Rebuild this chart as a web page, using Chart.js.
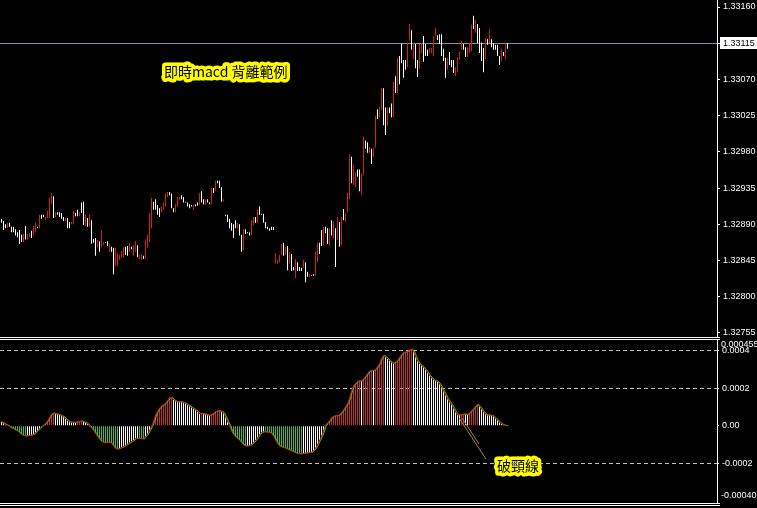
<!DOCTYPE html>
<html>
<head>
<meta charset="utf-8">
<script src="https://cdn.jsdelivr.net/npm/chart.js@4.4.1/dist/chart.umd.min.js"></script>
<style>
  html, body { margin: 0; padding: 0; background: #000; }
  #wrap { position: relative; width: 757px; height: 508px; background: #000; overflow: hidden; }
  canvas { position: absolute; left: 0; }
  #priceCanvas { top: 0; }
  #macdCanvas { top: 338px; }
</style>
</head>
<body>
<div id="wrap">
  <canvas id="priceCanvas" width="757" height="338"></canvas>
  <canvas id="macdCanvas" width="757" height="170"></canvas>
</div>
<script>
// 顏色: 紅=上漲K線, 白=下跌K線; MACD 柱狀 紅/白/綠
const COLORS = {
    up: '#dc1c1c',
    down: '#ffffff',
    axis: '#ffffff',
    priceLine: '#7f8ea4',
    level: '#c0c0c0',
    histUp: '#cc2844',
    histDown: '#40c040',
    histFlat: '#ffffff',
    macdLine: '#ff0000',
    signalLine: '#00ff00',
    note: '#ffff00',
    arrow: '#a8843c',
};

// 每根K線的最高/最低價 (由左到右)
const highs = [
    1.32897, 1.32894, 1.32890, 1.32892, 1.32892, 1.32887, 1.32887, 1.32884, 1.32880, 1.32883,
    1.32877, 1.32878, 1.32888, 1.32878, 1.32879, 1.32882, 1.32888, 1.32892, 1.32887, 1.32902,
    1.32902, 1.32902, 1.32899, 1.32907, 1.32923, 1.32929, 1.32925, 1.32905, 1.32905, 1.32905,
    1.32904, 1.32899, 1.32898, 1.32898, 1.32893, 1.32893, 1.32907, 1.32904, 1.32908, 1.32905,
    1.32917, 1.32918, 1.32902, 1.32898, 1.32902, 1.32895, 1.32872, 1.32873, 1.32871, 1.32869,
    1.32883, 1.32868, 1.32868, 1.32869, 1.32866, 1.32862, 1.32861, 1.32861, 1.32854, 1.32852,
    1.32857, 1.32862, 1.32862, 1.32863, 1.32867, 1.32862, 1.32864, 1.32869, 1.32864, 1.32852,
    1.32853, 1.32851, 1.32871, 1.32877, 1.32904, 1.32923, 1.32918, 1.32921, 1.32914, 1.32910,
    1.32912, 1.32917, 1.32928, 1.32930, 1.32930, 1.32928, 1.32910, 1.32915, 1.32924, 1.32924,
    1.32926, 1.32924, 1.32918, 1.32917, 1.32915, 1.32914, 1.32914, 1.32915, 1.32917, 1.32929,
    1.32931, 1.32921, 1.32921, 1.32921, 1.32917, 1.32935, 1.32935, 1.32944, 1.32944, 1.32944,
    1.32936, 1.32921, 1.32902, 1.32902, 1.32897, 1.32892, 1.32890, 1.32895, 1.32892, 1.32890,
    1.32877, 1.32884, 1.32884, 1.32880, 1.32880, 1.32895, 1.32899, 1.32899, 1.32908, 1.32912,
    1.32903, 1.32903, 1.32893, 1.32887, 1.32885, 1.32887, 1.32887, 1.32854, 1.32846, 1.32852,
    1.32866, 1.32867, 1.32862, 1.32863, 1.32856, 1.32853, 1.32837, 1.32847, 1.32843, 1.32837,
    1.32836, 1.32846, 1.32843, 1.32831, 1.32828, 1.32827, 1.32828, 1.32856, 1.32867, 1.32867,
    1.32883, 1.32887, 1.32887, 1.32885, 1.32885, 1.32895, 1.32894, 1.32885, 1.32899, 1.32893,
    1.32899, 1.32909, 1.32904, 1.32929, 1.32977, 1.32974, 1.32964, 1.32955, 1.32958, 1.32958,
    1.32953, 1.32999, 1.32994, 1.32992, 1.32986, 1.32984, 1.32985, 1.33025, 1.33033, 1.33036,
    1.33059, 1.33059, 1.33035, 1.33035, 1.33035, 1.33040, 1.33067, 1.33074, 1.33097, 1.33099,
    1.33115, 1.33094, 1.33094, 1.33116, 1.33139, 1.33131, 1.33115, 1.33114, 1.33094, 1.33114,
    1.33115, 1.33124, 1.33114, 1.33107, 1.33109, 1.33109, 1.33124, 1.33134, 1.33125, 1.33126,
    1.33126, 1.33108, 1.33097, 1.33097, 1.33104, 1.33094, 1.33094, 1.33085, 1.33098, 1.33105,
    1.33118, 1.33114, 1.33110, 1.33110, 1.33115, 1.33138, 1.33149, 1.33144, 1.33139, 1.33134,
    1.33116, 1.33109, 1.33121, 1.33120, 1.33133, 1.33120, 1.33115, 1.33113, 1.33113, 1.33099,
    1.33108, 1.33104, 1.33115, 1.33115,
];
const lows = [
    1.32892, 1.32883, 1.32885, 1.32885, 1.32887, 1.32880, 1.32880, 1.32876, 1.32874, 1.32866,
    1.32868, 1.32868, 1.32871, 1.32871, 1.32874, 1.32873, 1.32876, 1.32880, 1.32885, 1.32885,
    1.32897, 1.32899, 1.32895, 1.32898, 1.32898, 1.32915, 1.32898, 1.32899, 1.32902, 1.32899,
    1.32897, 1.32894, 1.32894, 1.32885, 1.32885, 1.32890, 1.32890, 1.32900, 1.32900, 1.32900,
    1.32904, 1.32889, 1.32888, 1.32887, 1.32887, 1.32866, 1.32867, 1.32851, 1.32861, 1.32856,
    1.32861, 1.32864, 1.32867, 1.32863, 1.32856, 1.32856, 1.32828, 1.32838, 1.32838, 1.32846,
    1.32848, 1.32849, 1.32852, 1.32851, 1.32856, 1.32859, 1.32851, 1.32856, 1.32849, 1.32847,
    1.32846, 1.32847, 1.32847, 1.32861, 1.32868, 1.32885, 1.32908, 1.32908, 1.32902, 1.32899,
    1.32905, 1.32908, 1.32912, 1.32924, 1.32926, 1.32910, 1.32905, 1.32905, 1.32912, 1.32920,
    1.32921, 1.32917, 1.32917, 1.32912, 1.32910, 1.32912, 1.32908, 1.32912, 1.32913, 1.32914,
    1.32917, 1.32915, 1.32914, 1.32917, 1.32915, 1.32915, 1.32929, 1.32931, 1.32941, 1.32935,
    1.32918, 1.32918, 1.32900, 1.32893, 1.32885, 1.32882, 1.32873, 1.32885, 1.32885, 1.32876,
    1.32856, 1.32858, 1.32878, 1.32879, 1.32876, 1.32876, 1.32889, 1.32892, 1.32892, 1.32902,
    1.32902, 1.32892, 1.32885, 1.32884, 1.32882, 1.32883, 1.32883, 1.32841, 1.32841, 1.32843,
    1.32852, 1.32851, 1.32852, 1.32833, 1.32841, 1.32832, 1.32833, 1.32823, 1.32832, 1.32832,
    1.32832, 1.32836, 1.32818, 1.32825, 1.32825, 1.32826, 1.32826, 1.32826, 1.32843, 1.32853,
    1.32863, 1.32864, 1.32879, 1.32866, 1.32863, 1.32876, 1.32873, 1.32837, 1.32871, 1.32862,
    1.32864, 1.32895, 1.32893, 1.32905, 1.32921, 1.32941, 1.32939, 1.32936, 1.32949, 1.32931,
    1.32926, 1.32951, 1.32984, 1.32979, 1.32979, 1.32965, 1.32974, 1.32985, 1.33021, 1.33023,
    1.33032, 1.33013, 1.33001, 1.33012, 1.33028, 1.33023, 1.33023, 1.33053, 1.33053, 1.33064,
    1.33090, 1.33072, 1.33082, 1.33085, 1.33118, 1.33107, 1.33095, 1.33084, 1.33073, 1.33083,
    1.33103, 1.33092, 1.33099, 1.33099, 1.33103, 1.33103, 1.33099, 1.33123, 1.33119, 1.33114,
    1.33099, 1.33093, 1.33072, 1.33082, 1.33088, 1.33085, 1.33078, 1.33074, 1.33079, 1.33094,
    1.33107, 1.33107, 1.33098, 1.33098, 1.33103, 1.33105, 1.33133, 1.33128, 1.33115, 1.33103,
    1.33093, 1.33079, 1.33095, 1.33113, 1.33115, 1.33110, 1.33107, 1.33107, 1.33099, 1.33088,
    1.33093, 1.33099, 1.33095, 1.33108,
];
// u = 收漲 (紅), d = 收跌 (白)
const barDirs =
    'dddudddddd' + 'duduuduudu' + 'dduuuududd' + 'ddudduuddu' + 'ddududddud' +
    'uuddudduuu' + 'uudduduudu' + 'uduuuudddd' + 'uuuuddduuu' + 'dddddduddu' +
    'dduddududd' + 'duddddddud' + 'duddduudud' + 'ddddddduuu' + 'udududdudd' +
    'duddudduud' + 'duddududud' + 'uduuuduudd' + 'uudduduudu' + 'udduddudud' +
    'ddduududdu' + 'uddduuuudd' + 'ddduddduuu' + 'udduuududd' + 'ddududdddd' +
    'udud';

const priceTicks = [1.32755, 1.32800, 1.32845, 1.32890, 1.32935, 1.32980, 1.33025, 1.33070, 1.33115, 1.33160];
const lastPrice = 1.33115;

// MACD 柱狀值
const macd = [
    21e-6, 14e-6, 7e-6, 2e-6, -4e-6, -11e-6, -16e-6, -23e-6, -28e-6, -36e-6,
    -46e-6, -52e-6, -54e-6, -53e-6, -52e-6, -50e-6, -46e-6, -37e-6, -27e-6, -16e-6,
    -5e-6, 4e-6, 12e-6, 25e-6, 44e-6, 62e-6, 68e-6, 64e-6, 62e-6, 59e-6,
    53e-6, 48e-6, 39e-6, 28e-6, 21e-6, 18e-6, 18e-6, 18e-6, 20e-6, 23e-6,
    25e-6, 21e-6, 18e-6, 11e-6, -2e-6, -11e-6, -25e-6, -41e-6, -57e-6, -71e-6,
    -84e-6, -87e-6, -89e-6, -89e-6, -89e-6, -92e-6, -107e-6, -121e-6, -124e-6, -121e-6,
    -116e-6, -112e-6, -105e-6, -98e-6, -91e-6, -85e-6, -78e-6, -68e-6, -67e-6, -68e-6,
    -69e-6, -70e-6, -58e-6, -44e-6, -25e-6, -4e-6, 21e-6, 57e-6, 76e-6, 94e-6,
    105e-6, 112e-6, 119e-6, 135e-6, 149e-6, 151e-6, 139e-6, 132e-6, 128e-6, 128e-6,
    128e-6, 124e-6, 119e-6, 112e-6, 105e-6, 98e-6, 91e-6, 84e-6, 75e-6, 64e-6,
    66e-6, 64e-6, 62e-6, 57e-6, 55e-6, 59e-6, 66e-6, 75e-6, 78e-6, 80e-6,
    76e-6, 69e-6, 48e-6, 23e-6, 0, -27e-6, -46e-6, -59e-6, -68e-6, -76e-6,
    -89e-6, -101e-6, -108e-6, -107e-6, -105e-6, -100e-6, -91e-6, -78e-6, -64e-6, -46e-6,
    -37e-6, -32e-6, -32e-6, -34e-6, -36e-6, -39e-6, -55e-6, -76e-6, -96e-6, -108e-6,
    -112e-6, -116e-6, -119e-6, -124e-6, -130e-6, -133e-6, -139e-6, -144e-6, -148e-6, -149e-6,
    -149e-6, -148e-6, -146e-6, -144e-6, -143e-6, -141e-6, -133e-6, -121e-6, -100e-6, -78e-6,
    -57e-6, -28e-6, 4e-6, 14e-6, 27e-6, 43e-6, 50e-6, 53e-6, 54e-6, 57e-6,
    71e-6, 85e-6, 101e-6, 119e-6, 146e-6, 185e-6, 212e-6, 226e-6, 235e-6, 240e-6,
    238e-6, 251e-6, 261e-6, 277e-6, 290e-6, 295e-6, 294e-6, 300e-6, 315e-6, 331e-6,
    359e-6, 375e-6, 368e-6, 357e-6, 347e-6, 338e-6, 332e-6, 340e-6, 347e-6, 364e-6,
    379e-6, 389e-6, 393e-6, 395e-6, 404e-6, 409e-6, 398e-6, 368e-6, 345e-6, 332e-6,
    322e-6, 313e-6, 300e-6, 284e-6, 268e-6, 256e-6, 245e-6, 240e-6, 236e-6, 224e-6,
    206e-6, 185e-6, 164e-6, 144e-6, 128e-6, 114e-6, 94e-6, 73e-6, 60e-6, 57e-6,
    59e-6, 62e-6, 62e-6, 60e-6, 68e-6, 78e-6, 91e-6, 105e-6, 114e-6, 103e-6,
    89e-6, 75e-6, 62e-6, 57e-6, 57e-6, 55e-6, 50e-6, 41e-6, 30e-6, 18e-6,
    11e-6, 5e-6, 2e-6, 0,
];
const macdTicks = [0.0004, 0.0002, 0, -0.0002];
const macdTickLabels = ['0.0004', '0.0002', '0.00', '-0.0002'];
const macdMaxLabel = '0.000455';
const macdMinLabel = '-0.00040';

const chartTitle = '即時macd 背離範例';
const necklineNote = '破頸線';

const AXIS_FONT = { family: 'Liberation Sans', size: 9 };
// 每根K線 2px, 從 x=1 開始
const xScale = () => ({ type: 'linear', display: false, offset: false, bounds: 'data', min: -0.75, max: 357.75 });

// 右側價格軸固定 40px 寬, 不要額外上下留白
function fixAxis(scale) {
    scale.width = 40;
    scale.paddingTop = 0;
    scale.paddingBottom = 0;
}

function haloText(ctx, text, x, y) {
    ctx.save();
    ctx.font = '14px "Noto Sans CJK TC"';
    ctx.textBaseline = 'middle';
    ctx.textAlign = 'left';
    ctx.lineJoin = 'round';
    ctx.lineWidth = 7;
    ctx.strokeStyle = COLORS.note;
    ctx.strokeText(text, x, y);
    ctx.fillStyle = '#000';
    ctx.fillText(text, x, y);
    ctx.restore();
}

const priceDecor = {
    id: 'priceDecor',
    beforeDraw(chart) {
        const { ctx, chartArea, scales: { y } } = chart;
        const py = Math.round(y.getPixelForValue(lastPrice)) + 0.5;
        ctx.save();
        ctx.strokeStyle = COLORS.priceLine;
        ctx.lineWidth = 1;
        ctx.beginPath();
        ctx.moveTo(chartArea.left, py);
        ctx.lineTo(chartArea.right, py);
        ctx.stroke();
        ctx.fillStyle = '#fff';
        ctx.fillRect(chartArea.right + 3, py - 6.5, 40, 12);
        ctx.restore();
    },
    afterDraw(chart) {
        const { ctx, chartArea } = chart;
        ctx.save();
        ctx.strokeStyle = COLORS.axis;
        ctx.lineWidth = 1;
        ctx.beginPath();
        ctx.moveTo(0, chartArea.bottom + 0.5);
        ctx.lineTo(chartArea.right + 3, chartArea.bottom + 0.5);
        ctx.stroke();
        ctx.restore();
        haloText(ctx, chartTitle, 164, 71.5);
    },
};

const macdDecor = {
    id: 'macdDecor',
    afterDraw(chart) {
        const { ctx, chartArea } = chart;
        ctx.save();
        ctx.strokeStyle = COLORS.axis;
        ctx.lineWidth = 1;
        [chartArea.top - 0.5, chartArea.bottom + 0.5, chartArea.bottom + 2.5].forEach((y) => {
            ctx.beginPath();
            ctx.moveTo(0, y);
            ctx.lineTo(chartArea.right + 3, y);
            ctx.stroke();
        });
        ctx.font = `${AXIS_FONT.size}px "${AXIS_FONT.family}"`;
        ctx.fillStyle = '#fff';
        ctx.textBaseline = 'middle';
        ctx.fillText(macdMaxLabel, chartArea.right + 4, chartArea.top + 5);
        ctx.fillText(macdMinLabel, chartArea.right + 4, chartArea.bottom - 7);
        // 破頸線 指示線
        ctx.strokeStyle = COLORS.arrow;
        ctx.beginPath();
        ctx.moveTo(459, 80);
        ctx.lineTo(486, 121);
        ctx.stroke();
        ctx.beginPath();
        ctx.moveTo(462, 80);
        ctx.lineTo(479, 106);
        ctx.stroke();
        ctx.restore();
        haloText(ctx, necklineNote, 497, 127.5);
    },
};

new Chart(document.getElementById('priceCanvas'), {
    type: 'bar',
    data: {
        datasets: [{
            data: highs.map((h, i) => ({ x: i, y: [lows[i], h] })),
            backgroundColor: barDirs.split('').map((d) => (d === 'u' ? COLORS.up : COLORS.down)),
            barThickness: 1,
            borderWidth: 0,
            inflateAmount: 0,
        }],
    },
    options: {
        responsive: false,
        animation: false,
        events: [],
        layout: { padding: { left: 0, top: 0, right: 0, bottom: 1 } },
        plugins: { legend: { display: false }, tooltip: { enabled: false } },
        scales: {
            x: xScale(),
            y: {
                position: 'right',
                min: 1.3275,
                max: 1.331687,
                afterBuildTicks: (s) => { s.ticks = priceTicks.map((v) => ({ value: v })); },
                afterFit: fixAxis,
                grid: { drawOnChartArea: false, drawTicks: true, tickLength: 3, tickColor: '#fff', color: '#fff' },
                border: { color: COLORS.axis, width: 1 },
                ticks: {
                    autoSkip: false,
                    padding: 3,
                    font: AXIS_FONT,
                    color: (c) => (c.tick && c.tick.value === lastPrice ? '#000' : '#fff'),
                    callback: (v) => v.toFixed(5),
                },
            },
        },
    },
    plugins: [priceDecor],
});

const histColors = macd.map((v, i) => {
    const prev = i > 0 ? macd[i - 1] : v;
    if (v > 0 && v > prev) return COLORS.histUp;
    if (v < 0 && v <= prev) return COLORS.histDown;
    return COLORS.histFlat;
});

new Chart(document.getElementById('macdCanvas'), {
    type: 'bar',
    data: {
        datasets: [
            {
                type: 'line',
                data: macd.map((v, i) => ({ x: i, y: v })),
                borderColor: COLORS.macdLine,
                borderWidth: 1,
                pointRadius: 0,
                tension: 0,
                order: 0,
            },
            {
                type: 'line',
                data: macd.map((v, i) => ({ x: i + 0.5, y: v })),
                borderColor: COLORS.signalLine,
                borderWidth: 1,
                pointRadius: 0,
                tension: 0,
                order: 1,
            },
            {
                data: macd.map((v, i) => ({ x: i, y: v })),
                backgroundColor: histColors,
                barThickness: 1,
                borderWidth: 0,
                inflateAmount: 0,
                order: 2,
            },
        ],
    },
    options: {
        responsive: false,
        animation: false,
        events: [],
        layout: { padding: { left: 0, top: 2, right: 0, bottom: 5 } },
        plugins: { legend: { display: false }, tooltip: { enabled: false } },
        scales: {
            x: xScale(),
            y: {
                position: 'right',
                min: -0.000412,
                max: 0.000457,
                afterBuildTicks: (s) => { s.ticks = macdTicks.map((v) => ({ value: v })); },
                afterFit: fixAxis,
                grid: {
                    drawOnChartArea: true,
                    drawTicks: true,
                    tickLength: 2,
                    tickColor: '#fff',
                    color: (c) => (c.tick && c.tick.value === 0 ? 'rgba(0,0,0,0)' : COLORS.level),
                },
                border: { color: COLORS.axis, width: 1, dash: [4, 3] },
                ticks: {
                    autoSkip: false,
                    padding: 3,
                    font: AXIS_FONT,
                    color: '#fff',
                    callback: (v) => macdTickLabels[macdTicks.indexOf(v)],
                },
            },
        },
    },
    plugins: [macdDecor],
});
</script>
</body>
</html>
